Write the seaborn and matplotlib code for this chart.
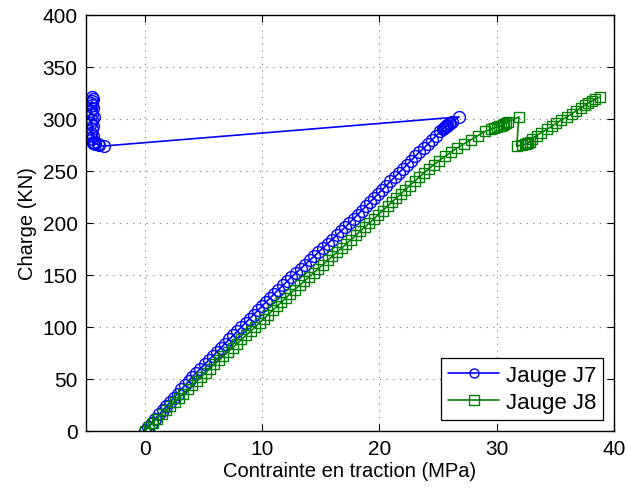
import matplotlib
matplotlib.use("Agg")
import pandas as pd
import matplotlib.pyplot as plt
import seaborn as sns

# --------------------------------
# Data (load in kN, strain gauges in MPa)
# --------------------------------
charge = [
    0, 4, 8, 12, 16, 20, 24, 28, 32, 36,
    40, 44, 48, 52, 56, 60, 64, 68, 72, 76,
    80, 84, 88, 92, 96, 100, 104, 108, 112, 116,
    120, 124, 128, 132, 136, 140, 144, 148, 152, 156,
    160, 164, 168, 172, 176, 180, 184, 188, 192, 196,
    200, 204, 208, 212, 216, 220, 224, 228, 232, 236,
    240, 244, 248, 252, 256, 260, 264, 268, 272, 276,
    280, 284, 288,
    290, 291.5, 292.5, 293, 293.5, 294, 295, 296, 297.5, 302,
    274, 275, 275.5, 276, 276.5, 277, 278,
    281, 284, 287, 290, 293, 296, 299, 302, 305, 308, 311, 313, 315, 317, 319, 321,
]

jauge_j7 = [
    0.0, 0.3, 0.6, 0.9, 1.25, 1.55, 1.85, 2.2, 2.5, 2.8,
    3.1, 3.45, 3.75, 4.05, 4.4, 4.75, 5.1, 5.45, 5.8, 6.15,
    6.5, 6.85, 7.2, 7.55, 7.9, 8.25, 8.6, 8.95, 9.3, 9.65,
    10.0, 10.35, 10.7, 11.05, 11.4, 11.8, 12.15, 12.5, 12.9, 13.3,
    13.65, 14.05, 14.45, 14.8, 15.2, 15.6, 15.95, 16.35, 16.7, 17.1,
    17.45, 17.8, 18.15, 18.5, 18.85, 19.2, 19.55, 19.9, 20.25, 20.6,
    20.95, 21.3, 21.65, 22.0, 22.35, 22.7, 23.05, 23.4, 23.8, 24.15,
    24.5, 24.85, 25.2,
    25.4, 25.55, 25.6, 25.7, 25.75, 25.8, 25.95, 26.05, 26.2, 26.8,
    -3.5, -3.9, -4.0, -4.2, -4.3, -4.4, -4.4,
    -4.5, -4.4, -4.6, -4.5, -4.4, -4.6, -4.5, -4.3, -4.5, -4.6, -4.4, -4.5, -4.6, -4.5, -4.4, -4.5,
]

jauge_j8 = [
    0.0, 0.35, 0.7, 1.05, 1.45, 1.8, 2.2, 2.55, 2.95, 3.3,
    3.7, 4.05, 4.45, 4.8, 5.2, 5.55, 5.95, 6.35, 6.7, 7.1,
    7.5, 7.9, 8.25, 8.65, 9.05, 9.4, 9.8, 10.15, 10.55, 10.9,
    11.3, 11.65, 12.05, 12.4, 12.8, 13.2, 13.6, 14.0, 14.4, 14.8,
    15.2, 15.6, 16.0, 16.4, 16.8, 17.2, 17.6, 18.0, 18.35, 18.75,
    19.15, 19.55, 19.9, 20.3, 20.7, 21.05, 21.45, 21.85, 22.2, 22.6,
    23.0, 23.4, 23.8, 24.2, 24.65, 25.1, 25.6, 26.1, 26.6, 27.2,
    27.8, 28.4, 29.0,
    29.5, 29.8, 30.0, 30.2, 30.4, 30.5, 30.6, 30.8, 31.0, 31.9,
    31.7, 32.2, 32.4, 32.5, 32.6, 32.7, 32.8,
    33.0, 33.4, 33.8, 34.3, 34.7, 35.1, 35.5, 36.0, 36.4, 36.8, 37.2, 37.5, 37.8, 38.1, 38.4, 38.8,
]

x_ticks = [0, 10, 20, 30, 40]
y_ticks = [0, 50, 100, 150, 200, 250, 300, 350, 400]

df = pd.DataFrame({"Charge": charge, "J7": jauge_j7, "J8": jauge_j8})

# --------------------------------
# Style
# --------------------------------
sns.set_style("ticks")
plt.rcParams["font.family"] = ["Liberation Sans", "DejaVu Sans"]
plt.rcParams["font.size"] = 14.5
plt.rcParams["text.color"] = "black"
plt.rcParams["axes.labelcolor"] = "black"
plt.rcParams["xtick.color"] = "black"
plt.rcParams["ytick.color"] = "black"

fig = plt.figure(figsize=(6.26, 4.89), dpi=100)
ax = fig.add_axes([0.1374, 0.1166, 0.8434, 0.8507])

sns.lineplot(data=df, x="J7", y="Charge", sort=False, estimator=None,
             color="#0000ff", lw=1.2, marker="o", markersize=8.5,
             markerfacecolor="none", markeredgecolor="#0000ff",
             markeredgewidth=1.0, label="Jauge J7", ax=ax)
sns.lineplot(data=df, x="J8", y="Charge", sort=False, estimator=None,
             color="#008000", lw=1.2, marker="s", markersize=7.5,
             markerfacecolor="none", markeredgecolor="#008000",
             markeredgewidth=1.0, label="Jauge J8", ax=ax)

ax.set_xlim(-5, 40)
ax.set_ylim(0, 400)
ax.set_xticks(x_ticks)
ax.set_yticks(y_ticks)
ax.set_xlabel("Contrainte en traction (MPa)", fontsize=14.5, labelpad=2)
ax.set_ylabel("Charge (KN)", fontsize=14.5, labelpad=4)

ax.grid(True, color="0.45", linestyle=(0, (1, 5)), linewidth=0.8)
ax.tick_params(direction="in", top=True, right=True, length=5, width=0.8,
               labelsize=15, pad=6, colors="black")
for side in ["left", "right", "top", "bottom"]:
    ax.spines[side].set_visible(True)
    ax.spines[side].set_color("black")
    ax.spines[side].set_linewidth(1.0)

leg = ax.legend(loc="lower right", frameon=True, fancybox=False,
                edgecolor="black", framealpha=1, numpoints=1,
                handlelength=2.3, handletextpad=0.3, labelspacing=0.3,
                borderaxespad=0.5, borderpad=0.3, fontsize=16)
leg.get_frame().set_linewidth(0.9)
for h in leg.legend_handles:
    h.set_markersize(6.5)

fig.savefig("out.png", dpi=100)
